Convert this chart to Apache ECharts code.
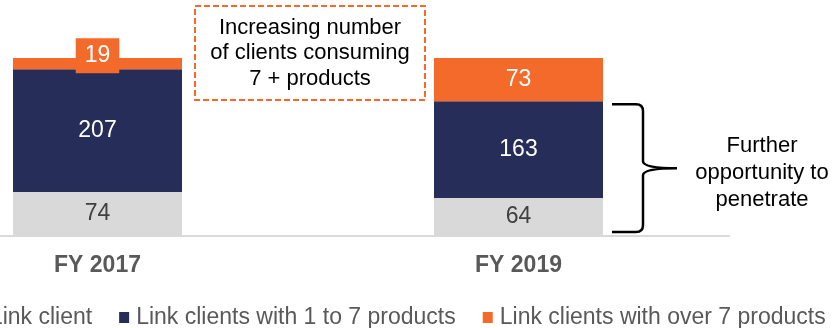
<!DOCTYPE html>
<html>
<head>
<meta charset="utf-8">
<script src="https://cdn.jsdelivr.net/npm/echarts@6/dist/echarts.min.js"></script>
<style>
html,body{margin:0;padding:0;background:#fff;}
#chart{width:834px;height:328px;}
</style>
</head>
<body>
<div id="chart"></div>
<script>
var categories = ['FY 2017', 'FY 2019'];
var seriesNames = ['Non-Link client', 'Link clients with 1 to 7 products', 'Link clients with over 7 products'];
var nonLink = [74, 64];
var link1to7 = [207, 163];
var linkOver7 = [19, 73];
var boxText = 'Increasing number\nof clients consuming\n7 + products';
var bracketText = 'Further\nopportunity to\npenetrate';

var FONT = "'Liberation Sans', Arial, sans-serif";
var GREY = '#d9d9d9', NAVY = '#252d58', ORANGE = '#f36a2b';

var chart = echarts.init(document.getElementById('chart'), null, {renderer: 'canvas'});

function lbl(color) {
  return {show: true, position: 'inside', color: color, fontSize: 23, fontFamily: FONT};
}

var option = {
  animation: false,
  backgroundColor: '#fff',
  grid: {left: -113, width: 842, top: 58, height: 178, outerBoundsMode: 'none', containLabel: false},
  xAxis: {
    type: 'category', data: categories,
    axisLine: {show: true, lineStyle: {color: GREY, width: 2}},
    axisTick: {show: false},
    axisLabel: {color: '#595959', fontWeight: 'bold', fontSize: 23, fontFamily: FONT, margin: 18}
  },
  yAxis: {type: 'value', min: 0, max: 300, show: false, splitLine: {show: false}},
  legend: {
    data: seriesNames, left: -77, top: 306, width: 1200, padding: 0,
    icon: 'rect', itemWidth: 10, itemHeight: 11, itemGap: 27,
    textStyle: {color: '#595959', fontSize: 23, fontFamily: FONT, padding: [0, 0, 0, 2]}
  },
  series: [
    {name: seriesNames[0], type: 'bar', stack: 't', barWidth: 169, data: nonLink,
     itemStyle: {color: GREY}, label: lbl('#404040')},
    {name: seriesNames[1], type: 'bar', stack: 't', barWidth: 169, data: link1to7,
     itemStyle: {color: NAVY}, label: lbl('#ffffff')},
    {name: seriesNames[2], type: 'bar', stack: 't', barWidth: 169,
     data: linkOver7.map(function (v, i) {
       return i === 0 ? {value: v, label: {backgroundColor: ORANGE, padding: [6, 9, 6, 9], offset: [0, -8]}} : v;
     }),
     itemStyle: {color: ORANGE}, label: lbl('#ffffff')}
  ],
  graphic: [
    {type: 'rect', shape: {x: 195, y: 6, width: 230, height: 94},
     style: {fill: 'none', stroke: ORANGE, lineWidth: 2, lineDash: [6, 3]}},
    {type: 'text', x: 310, y: 53,
     style: {text: boxText, fill: '#000', font: '22px ' + FONT, textAlign: 'center', textVerticalAlign: 'middle', lineHeight: 25.5}}
  ]
};
chart.setOption(option);

// bracket positioned from data scale
var p0 = chart.convertToPixel({gridIndex: 0}, [categories[1], 0]);
var p1 = chart.convertToPixel({gridIndex: 0}, [categories[1], nonLink[1] + link1to7[1]]);
var x0 = p0[0] + 169 / 2 + 9, xs = x0 + 31, xp = xs + 34;
var yt = p1[1] + 3, yb = p0[1] - 4, ym = (yt + yb) / 2;
var r = 7;
var pathData = 'M' + x0 + ',' + yt + ' L' + (xs - r) + ',' + yt + ' Q' + xs + ',' + yt + ' ' + xs + ',' + (yt + r) +
  ' L' + xs + ',' + (ym - r) + ' Q' + xs + ',' + ym + ' ' + xp + ',' + ym +
  ' Q' + xs + ',' + ym + ' ' + xs + ',' + (ym + r) +
  ' L' + xs + ',' + (yb - r) + ' Q' + xs + ',' + yb + ' ' + (xs - r) + ',' + yb + ' L' + x0 + ',' + yb;

var bracket = echarts.graphic.makePath(pathData, {style: {fill: null, stroke: '#000', lineWidth: 2.5}});
chart.getZr().add(bracket);
var bt = new echarts.graphic.Text({
  x: 762, y: ym + 5,
  style: {text: bracketText, fill: '#000', font: '22px ' + FONT, align: 'center', verticalAlign: 'middle', lineHeight: 27}
});
chart.getZr().add(bt);
</script>
</body>
</html>
